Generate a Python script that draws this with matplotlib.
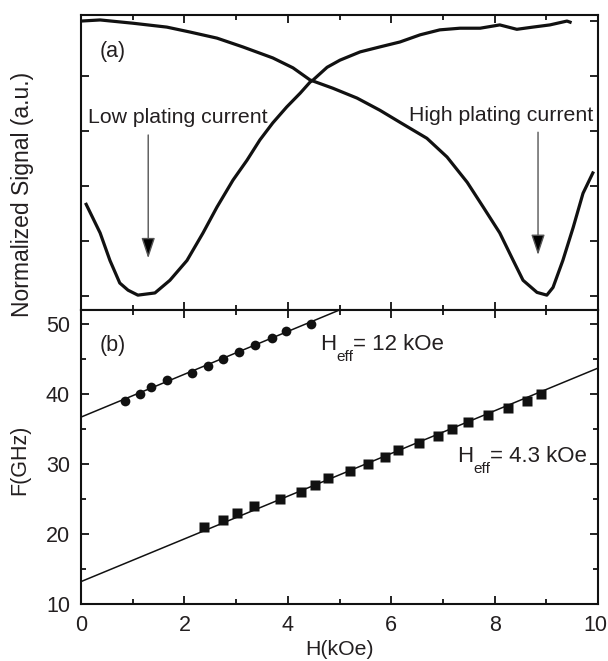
import matplotlib
matplotlib.use("Agg")
import matplotlib.pyplot as plt
import numpy as np
from matplotlib.ticker import MultipleLocator, NullFormatter
from matplotlib.transforms import offset_copy, ScaledTranslation

plt.rcParams['font.family'] = ['Liberation Sans', 'DejaVu Sans']

TXT = '#231f20'

# ---- panel (a) data: normalized signal vs H ----
low_h = [0.10, 0.37, 0.56, 0.75, 0.91, 1.10, 1.43, 1.72, 2.05, 2.36, 2.63, 2.94,
         3.21, 3.46, 3.71, 3.98, 4.24, 4.43, 4.49, 4.76, 5.01, 5.40, 5.78, 6.17,
         6.56, 6.94, 7.33, 7.72, 8.10, 8.43, 8.74, 9.07, 9.40, 9.46]
low_sig = [1.67, 1.15, 0.65, 0.24, 0.11, 0.02, 0.06, 0.29, 0.65, 1.15, 1.62, 2.11,
           2.47, 2.84, 3.15, 3.44, 3.69, 3.89, 3.93, 4.16, 4.29, 4.44, 4.53, 4.62,
           4.75, 4.84, 4.87, 4.87, 4.93, 4.85, 4.89, 4.93, 5.00, 4.98]

high_h = [0.00, 0.37, 1.01, 1.66, 2.11, 2.63, 3.13, 3.71, 4.10, 4.43, 4.87, 5.34,
          5.78, 6.17, 6.69, 7.08, 7.47, 7.78, 8.10, 8.36, 8.55, 8.82, 9.01, 9.13,
          9.32, 9.52, 9.71, 9.90]
high_sig = [5.00, 5.02, 4.96, 4.89, 4.80, 4.69, 4.53, 4.33, 4.15, 3.93, 3.78, 3.60,
            3.38, 3.16, 2.87, 2.53, 2.07, 1.62, 1.15, 0.65, 0.29, 0.07, 0.02, 0.16,
            0.65, 1.25, 1.87, 2.24]

# ---- panel (b) data: resonance frequency vs H ----
circ_h = [0.85, 1.15, 1.35, 1.66, 2.15, 2.45, 2.75, 3.05, 3.37, 3.70, 3.96, 4.45]
circ_f = [39, 40, 41, 42, 43, 44, 45, 46, 47, 48, 49, 50]

sq_h = [2.38, 2.75, 3.02, 3.35, 3.84, 4.26, 4.53, 4.78, 5.20, 5.56, 5.88, 6.13,
        6.54, 6.90, 7.18, 7.49, 7.88, 8.25, 8.63, 8.90]
sq_f = [21, 22, 23, 24, 25, 26, 27, 28, 29, 30, 31, 32,
        33, 34, 35, 36, 37, 38, 39, 40]

# linear fits (slope GHz/kOe, intercept GHz)
fit_circ = (3.06, 36.7)
fit_sq = (3.05, 13.2)
fit_h = [0, 10]

x_ticks = [0, 2, 4, 6, 8, 10]

fig = plt.figure(figsize=(6.08, 6.61), dpi=100)
L, R = 81/608, 598/608
ax1 = fig.add_axes([L, 1 - 310/661, R - L, (310 - 15)/661])
ax2 = fig.add_axes([L, 1 - 604/661, R - L, (604 - 310)/661], sharex=ax1)

for ax in (ax1, ax2):
    for s in ax.spines.values():
        s.set_linewidth(1.5)
        s.set_color('#111111')
    ax.tick_params(which='both', direction='in', top=True, right=True,
                   width=1.3, colors='#111111', labelcolor=TXT, labelsize=15.5, pad=8)
    ax.tick_params(which='major', length=6)
    ax.tick_params(which='minor', length=3.8)
    ax.xaxis.set_minor_locator(MultipleLocator(1))

# panel (a)
ax1.plot(low_h, low_sig, color='#111111', lw=2.3, solid_joinstyle='round')
ax1.plot(high_h, high_sig, color='#111111', lw=2.3, solid_joinstyle='round')
ax1.set_xlim(0, 10)
ax1.set_ylim(-0.25, 5.11)
ax1.yaxis.set_major_locator(MultipleLocator(1))
ax1.yaxis.set_major_formatter(NullFormatter())
ax1.tick_params(axis='x', labelbottom=False)
ax1.text(0.62, 4.44, '(a)', fontsize=15.5, color=TXT, ha='center', va='center')
ax1.text(1.88, 3.25, 'Low plating current', fontsize=15.3, color=TXT, ha='center', va='center')
ax1.text(8.13, 3.29, 'High plating current', fontsize=15.3, color=TXT, ha='center', va='center')
arrow_kw = dict(arrowstyle='-|>,head_length=0.9,head_width=0.3', ec='#555555', fc='black',
                lw=1.0, shrinkA=0, shrinkB=0, mutation_scale=14)
ax1.annotate('', xy=(1.30, 0.69), xytext=(1.30, 2.93), arrowprops=arrow_kw)
ax1.annotate('', xy=(8.84, 0.75), xytext=(8.84, 2.98), arrowprops=arrow_kw)

# panel (b)
fh = np.array(fit_h, dtype=float)
ax2.plot(fh, fit_circ[0]*fh + fit_circ[1], color='#111111', lw=1.1)
ax2.plot(fh, fit_sq[0]*fh + fit_sq[1], color='#111111', lw=1.1)
ax2.plot(circ_h, circ_f, 'o', color='#111111', ms=7.0, mec='none')
ax2.plot(sq_h, sq_f, 's', color='#111111', ms=7.4, mec='none')
ax2.set_ylim(10, 52)
ax2.set_xticks(x_ticks)
ax2.yaxis.set_major_locator(MultipleLocator(10))
ax2.yaxis.set_minor_locator(MultipleLocator(5))
ax2.text(0.62, 47.0, '(b)', fontsize=15.5, color=TXT, ha='center', va='center')


def heff_label(ax, x, y, value):
    fs_main, fs_sub = 16, 11
    w_h = 0.722 * fs_main
    w_sub = 1.112 * fs_sub
    ax.text(x, y, 'H', fontsize=fs_main, color=TXT, ha='left', va='baseline')
    ax.text(x, y, 'eff', fontsize=fs_sub, color=TXT, ha='left', va='baseline',
            transform=offset_copy(ax.transData, fig=fig, x=w_h, y=-8, units='points'))
    ax.text(x, y, '= ' + value, fontsize=fs_main, color=TXT, ha='left', va='baseline',
            transform=offset_copy(ax.transData, fig=fig, x=w_h + w_sub, y=0, units='points'))


heff_label(ax2, 4.62, 46.3, '12 kOe')
heff_label(ax2, 7.27, 30.3, '4.3 kOe')

ax2.set_xlabel('H(kOe)', fontsize=15.3, color=TXT, labelpad=3)

fig.canvas.draw()
lab = ax2.get_xticklabels()[-1]
lab.set_transform(lab.get_transform() + ScaledTranslation(-2/72, 0, fig.dpi_scale_trans))

fig.text(23/608, 1 - 194/661, 'Normalized Signal (a.u.)', rotation=90, fontsize=16.5,
         color=TXT, ha='center', va='center')
fig.text(20/608, 1 - 460/661, 'F(GHz)', rotation=90, fontsize=15.5,
         color=TXT, ha='center', va='center')

fig.savefig('out.png', dpi=100)
